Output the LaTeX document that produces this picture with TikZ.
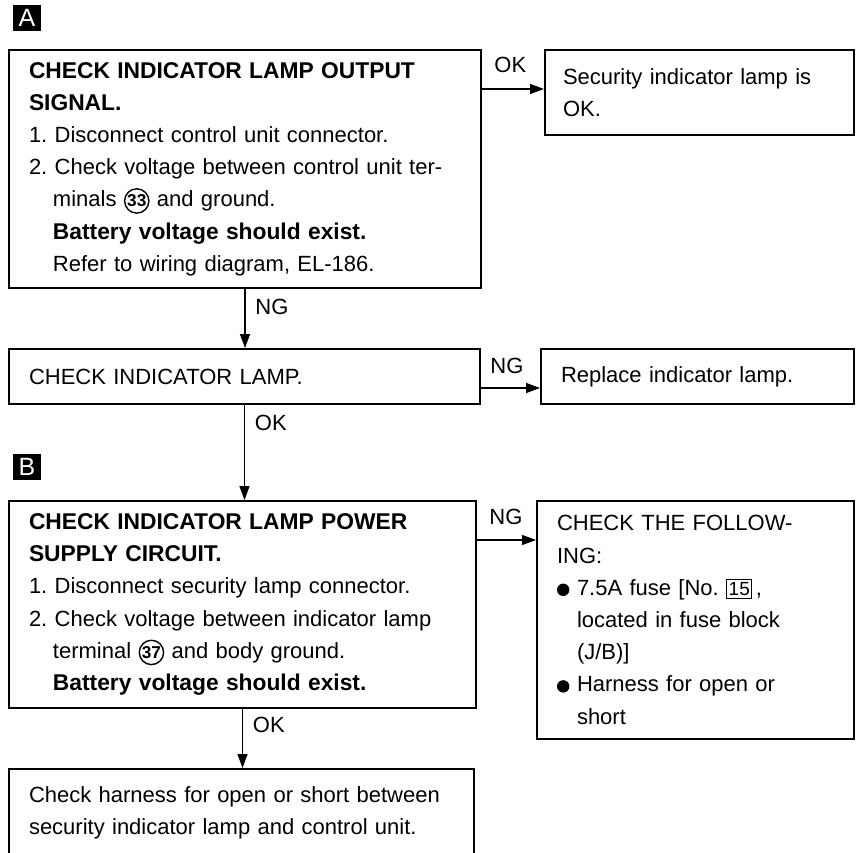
\documentclass[tikz,border=0pt]{standalone}
\usepackage{fontspec}
\setmainfont{Liberation Sans}
\usetikzlibrary{arrows.meta, positioning, calc}

\tikzset{numtag/.style={text width={}, minimum width=0pt, minimum height=0pt, align=center, anchor=center}}
\newcommand{\reg}{\fontsize{11}{16.1}\selectfont\frenchspacing}
\newcommand{\hd}[1]{{\fontsize{11.4}{16.1}\selectfont\bfseries #1}}
\newcommand{\ind}{\hspace*{12pt}}
\newcommand{\bind}{\hspace*{10pt}}
\newcommand{\circnum}[1]{\tikz[baseline=(n.base)]\node[numtag, draw, circle, line width=0.7pt, inner sep=0.3pt, font=\fontsize{8.6}{9}\selectfont\bfseries] (n) {#1};}
\newcommand{\boxnum}[1]{\tikz[baseline=(n.base)]\node[numtag, draw, line width=0.5pt, inner xsep=1pt, inner ysep=1.5pt, font=\fontsize{9.5}{10}\selectfont] (n) {#1};}
\newcommand{\blob}{\makebox[10pt][l]{\tikz[baseline=-2.8pt]\fill (0,0) circle (3.1pt);}}

\begin{document}
\begin{tikzpicture}[x=0.5pt, y=-0.5pt,
    box/.style={draw, line width=1pt, anchor=north west, inner xsep=10pt, inner ysep=0pt, align=left, font=\reg},
    arr/.style={line width=0.7pt, -{Triangle[length=7pt, width=5pt]}},
    lbl/.style={font=\reg, inner sep=0pt},
    marker/.style={fill=black, text=white, minimum width=14pt, minimum height=13pt, inner sep=0pt, font=\fontsize{12.5}{12.5}\selectfont}]

    \useasboundingbox[fill=white] (0,0) rectangle (862,852);

    % section A
    \node[marker] (mA) at (27,18) {A};
    \node[box, text width=216pt, minimum height=119pt] (outsig) at (8,49) {%
        \hd{CHECK INDICATOR LAMP OUTPUT}\\
        \hd{SIGNAL.}\\
        1. Disconnect control unit connector.\\
        2. Check voltage between control unit ter-\\
        \ind minals \circnum{33} and ground.\\
        \ind\hd{Battery voltage should exist.}\\
        \ind Refer to wiring diagram, EL-186.};
    \node[box, inner xsep=9pt, text width=136.5pt, minimum height=42.5pt] (secok) at (544,49) {Security indicator lamp is\\OK.};

    \node[box, text width=215.5pt, minimum height=27.5pt] (lamp) at (8,348) {CHECK INDICATOR LAMP.};
    \node[box, text width=136.5pt, minimum height=27.5pt] (repl) at (540,348) {Replace indicator lamp.};

    % section B
    \node[marker] (mB) at (27,467) {B};
    \node[box, text width=213.5pt, minimum height=103.5pt] (power) at (8,500) {%
        \hd{CHECK INDICATOR LAMP POWER}\\
        \hd{SUPPLY CIRCUIT.}\\
        1. Disconnect security lamp connector.\\
        2. Check voltage between indicator lamp\\
        \ind terminal \circnum{37} and body ground.\\
        \ind\hd{Battery voltage should exist.}};
    \node[box, text width=138.5pt, minimum height=119pt] (follow) at (536,500) {%
        CHECK THE FOLLOW-\\
        ING:\\
        \blob 7.5A fuse [No. \boxnum{15}\,,\\
        \bind located in fuse block\\
        \bind (J/B)]\\
        \blob Harness for open or\\
        \bind short};

    \node[box, text width=212.5pt, minimum height=44pt] (harn) at (8,768) {%
        Check harness for open or short between\\
        security indicator lamp and control unit.};

    % connectors
    \coordinate (e1) at ([yshift=-20pt]outsig.north east);
    \coordinate (e2) at ([yshift=-20pt]lamp.north east);
    \coordinate (e3) at ([yshift=-20pt]power.north east);
    \draw[arr] (e1) -- (e1 -| secok.west);
    \draw[arr] (e2) -- (e2 -| repl.west);
    \draw[arr] (e3) -- (e3 -| follow.west);
    \node[lbl, anchor=base west] (okA) at ([xshift=6pt, yshift=8.5pt]e1) {OK};
    \node[lbl, anchor=base west] (ngL) at ([xshift=4.5pt, yshift=7.5pt]e2) {NG};
    \node[lbl, anchor=base west] (ngP) at ([xshift=6pt, yshift=8pt]e3) {NG};

    \draw[arr] (outsig.south) -- (outsig.south |- lamp.north);
    \draw[arr] (lamp.south) -- (lamp.south |- power.north);
    \draw[arr] (power.south) -- (power.south |- harn.north);
    \node[lbl, anchor=north west] (ngA) at ([xshift=5pt, yshift=-5pt]outsig.south) {NG};
    \node[lbl, anchor=north west] (okL) at ([xshift=5pt, yshift=-5pt]lamp.south) {OK};
    \node[lbl, anchor=north west] (okP) at ([xshift=5pt, yshift=-4pt]power.south) {OK};
\end{tikzpicture}
\end{document}
